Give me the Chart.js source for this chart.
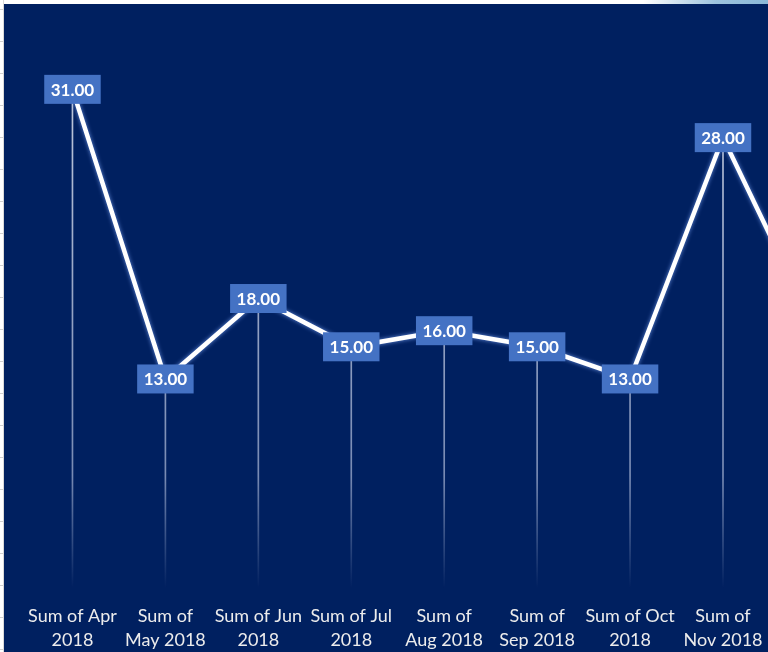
<!DOCTYPE html>
<html lang="en">
<head>
    <meta charset="UTF-8">
    <title>Sum of 2018</title>
    <script src="https://cdn.jsdelivr.net/npm/chart.js"></script>
    <style>
        html, body { margin: 0; padding: 0; background: #fff; overflow: hidden; }
        #sheet { position: absolute; left: 0; top: 0; width: 4px; height: 652px;
            background: repeating-linear-gradient(to bottom, #fff 0px, #fff 9px, #d0d0d0 9px, #d0d0d0 10px, #fff 10px, #fff 32px);
            border-right: 1px solid #d9d9d9; box-sizing: border-box; }
        #topband { position: absolute; left: 560px; top: 0; width: 208px; height: 4px;
            background: linear-gradient(to right, #fff 0%, #fff 40%, #9cc3de 75%, #8bb8d8 100%); }
        #box { position: absolute; left: 4px; top: 4px; width: 867px; height: 664px; background: #002060; }
    </style>
</head>
<body>
    <div id="sheet"></div>
    <div id="topband"></div>
    <div id="box"><canvas id="Chart" width="867" height="664"></canvas></div>
    <script>
        const months = [
            ['Sum of Apr', '2018'], ['Sum of', 'May 2018'], ['Sum of Jun', '2018'],
            ['Sum of Jul', '2018'], ['Sum of', 'Aug 2018'], ['Sum of', 'Sep 2018'],
            ['Sum of Oct', '2018'], ['Sum of', 'Nov 2018'], ['Sum of', 'Dec 2018']
        ];
        const sums = [31, 13, 18, 15, 16, 15, 13, 28, 16];

        // soft glow under the white line
        const glow = {
            id: 'glow',
            beforeDatasetDraw(chart, args) {
                if (args.index !== 0) return;
                chart.ctx.save();
                chart.ctx.shadowColor = 'rgba(110,150,230,0.9)';
                chart.ctx.shadowBlur = 4;
            },
            afterDatasetDraw(chart, args) {
                if (args.index !== 0) return;
                chart.ctx.restore();
            }
        };

        // value boxes like excel data labels
        const valueBoxes = {
            id: 'valueBoxes',
            afterDatasetsDraw(chart) {
                const ctx = chart.ctx;
                const meta = chart.getDatasetMeta(0);
                ctx.save();
                ctx.font = 'bold 17px Lato';
                ctx.textAlign = 'center';
                ctx.textBaseline = 'middle';
                meta.data.forEach((pt, i) => {
                    const txt = sums[i].toFixed(2);
                    const w = ctx.measureText(txt).width + 13;
                    const h = 29;
                    ctx.fillStyle = '#4472C4';
                    ctx.fillRect(pt.x - w / 2, pt.y - h / 2, w, h);
                    ctx.fillStyle = '#ffffff';
                    ctx.fillText(txt, pt.x, pt.y + 1);
                });
                ctx.restore();
            }
        };

        function dropFade(context) {
            const area = context.chart.chartArea;
            if (!area) return 'rgba(220,225,240,0.8)';
            const g = context.chart.ctx.createLinearGradient(0, area.top, 0, area.bottom);
            g.addColorStop(0, 'rgba(225,230,240,0.9)');
            g.addColorStop(0.8, 'rgba(200,210,235,0.6)');
            g.addColorStop(1, 'rgba(200,210,235,0)');
            return g;
        }

        const ctx = document.getElementById('Chart').getContext('2d');
        new Chart(ctx, {
            type: 'line',
            data: {
                labels: months,
                datasets: [{
                    type: 'line',
                    data: sums,
                    borderColor: '#ffffff',
                    borderWidth: 4.5,
                    tension: 0,
                    pointRadius: 0,
                    order: 0
                }, {
                    type: 'bar',
                    data: sums,
                    backgroundColor: dropFade,
                    barThickness: 1,
                    order: 1
                }]
            },
            options: {
                responsive: false,
                animation: false,
                layout: { padding: { left: 22, right: 1, top: 21, bottom: 0 } },
                plugins: { legend: { display: false }, tooltip: { enabled: false } },
                scales: {
                    x: {
                        offset: true,
                        grid: { display: false, drawTicks: false },
                        border: { display: false },
                        ticks: {
                            color: '#ececec',
                            font: { family: 'Lato', size: 18, lineHeight: 1.33 },
                            padding: 16,
                            maxRotation: 0,
                            autoSkip: false
                        }
                    },
                    y: {
                        display: false,
                        min: 0,
                        max: 35
                    }
                }
            },
            plugins: [glow, valueBoxes]
        });
    </script>
</body>
</html>
